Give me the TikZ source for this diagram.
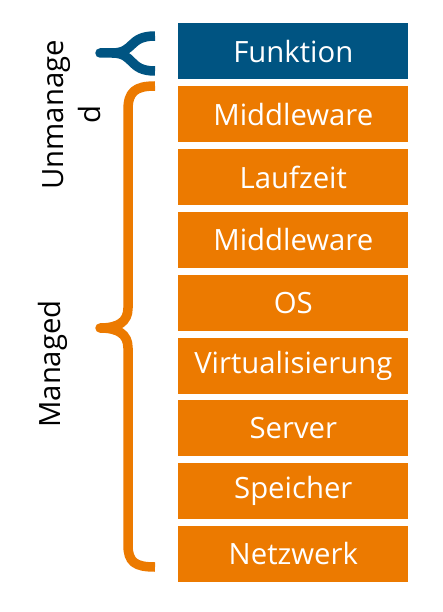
\documentclass[tikz,border=0pt]{standalone}
\usepackage{fontspec}
\setmainfont{Open Sans}
\usepackage{xcolor}
\usetikzlibrary{positioning}

\definecolor{stackblue}{HTML}{005482}
\definecolor{stackorange}{HTML}{EC7A00}

\tikzset{
    layer/.style={minimum width=230pt, minimum height=56pt, inner sep=0pt,
        text=white, font=\fontsize{29.3}{35}\selectfont},
    bluelayer/.style={layer, fill=stackblue},
    orangelayer/.style={layer, fill=stackorange},
    bracket/.style={line width=9.5pt, line cap=butt, line join=round},
    sidelabel/.style={rotate=90, align=center, font=\fontsize{29.3}{37}\selectfont}
}

\begin{document}
\begin{tikzpicture}[x=1pt, y=-1pt]
    \useasboundingbox (0, 0) rectangle (443, 612);

    \node [bluelayer] (funktion) at (293.3, 51.5) {Funktion};
    \node [orangelayer, below=6.4pt of funktion] (middleware1) {Middleware};
    \node [orangelayer, below=6.4pt of middleware1] (laufzeit) {Laufzeit};
    \node [orangelayer, below=6.4pt of laufzeit] (middleware2) {Middleware};
    \node [orangelayer, below=6.4pt of middleware2] (os) {OS};
    \node [orangelayer, below=6.4pt of os] (virtualisierung) {Virtualisierung};
    \node [orangelayer, below=6.4pt of virtualisierung] (server) {Server};
    \node [orangelayer, below=6.4pt of server] (speicher) {Speicher};
    \node [orangelayer, below=6.4pt of speicher] (netzwerk) {Netzwerk};

    \draw [bracket, stackblue] (155, 36) .. controls (128, 36) and (135, 53) .. (112, 53)
        -- (100, 53) -- (112, 53) .. controls (135, 53) and (128, 71) .. (155, 71);
    \draw [bracket, stackorange] (155, 86) .. controls (135, 86) and (128, 92) .. (128, 110)
        -- (128, 308) .. controls (128, 322) and (118, 328) .. (100, 328)
        .. controls (118, 328) and (128, 334) .. (128, 348)
        -- (128, 545) .. controls (128, 562) and (135, 567) .. (155, 567);

    \node [sidelabel] (unmanaged) at (72, 115) {Unmanage\\d};
    \node [sidelabel] (managed) at (53, 364) {Managed};

\end{tikzpicture}
\end{document}
